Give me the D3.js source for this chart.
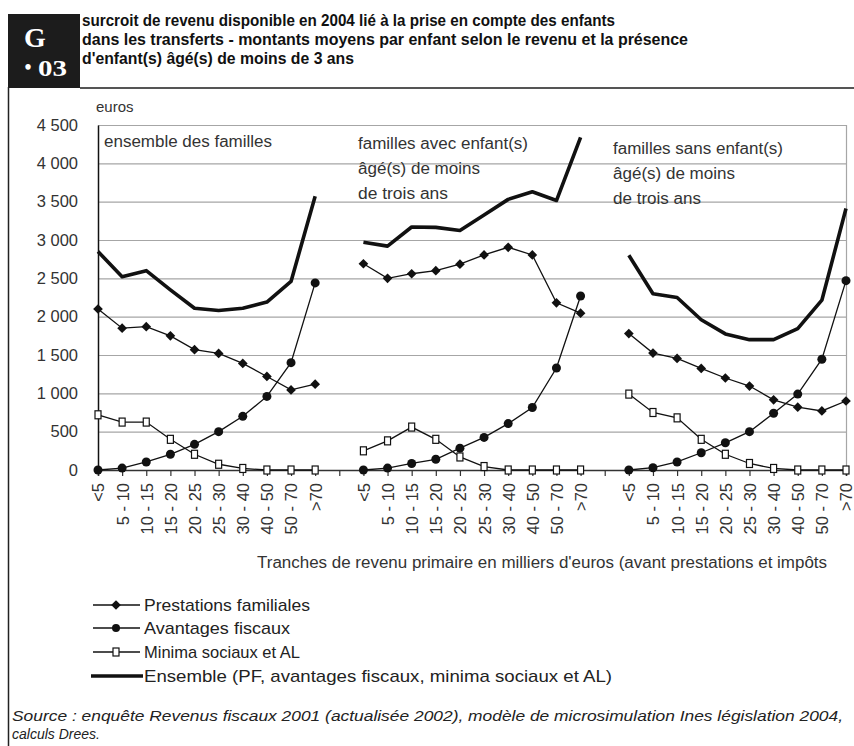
<!DOCTYPE html>
<html>
<head>
<meta charset="utf-8">
<script src="https://cdn.jsdelivr.net/npm/d3@7"></script>
<style>
  html, body { margin: 0; padding: 0; background: #fff; }
  svg { display: block; }
  text { font-family: "Liberation Sans", Arial, sans-serif; fill: #222; }
</style>
</head>
<body>
<svg id="chart" width="854" height="746"></svg>
<script>
// Income brackets (thousands of euros) shared by the three groups
const tranches = ["<5", "5 - 10", "10 - 15", "15 - 20", "20 - 25", "25 - 30", "30 - 40", "40 - 50", "50 - 70", ">70"];
const groupes = [
  ["ensemble des familles"],
  ["familles avec enfant(s)", "âgé(s) de moins", "de trois ans"],
  ["familles sans enfant(s)", "âgé(s) de moins", "de trois ans"]
];
const yTicks = [0, 500, 1000, 1500, 2000, 2500, 3000, 3500, 4000, 4500];

// Average amounts per child, euros — ensemble des familles
const ensembleTous    = [2850, 2520, 2600, 2350, 2110, 2080, 2110, 2190, 2460, 3570];
const prestationsTous = [2100, 1850, 1870, 1750, 1570, 1520, 1390, 1220, 1045, 1120];
const avantagesTous   = [0, 25, 105, 205, 335, 500, 700, 960, 1400, 2440];
const minimaTous      = [720, 625, 625, 400, 205, 75, 20, 0, 0, 0];

// familles avec enfant(s) de moins de trois ans
const ensembleAvec    = [2970, 2920, 3170, 3165, 3125, 3325, 3530, 3630, 3515, 4340];
const prestationsAvec = [2690, 2500, 2560, 2600, 2685, 2805, 2905, 2805, 2180, 2045];
const avantagesAvec   = [0, 25, 85, 140, 285, 425, 605, 815, 1330, 2270];
const minimaAvec      = [250, 380, 560, 400, 170, 45, 0, 0, 0, 0];

// familles sans enfant(s) de moins de trois ans
const ensembleSans    = [2800, 2300, 2250, 1960, 1775, 1700, 1700, 1845, 2215, 3410];
const prestationsSans = [1780, 1525, 1455, 1325, 1200, 1095, 915, 820, 770, 900];
const avantagesSans   = [0, 30, 105, 225, 355, 500, 740, 990, 1445, 2470];
const minimaSans      = [990, 750, 680, 400, 205, 85, 20, 0, 0, 0];

const seriesNames = [
  "Prestations familiales",
  "Avantages fiscaux",
  "Minima sociaux et AL",
  "Ensemble (PF, avantages fiscaux, minima sociaux et AL)"
];

const blocs = [
  { ensemble: ensembleTous, prestations: prestationsTous, avantages: avantagesTous, minima: minimaTous },
  { ensemble: ensembleAvec, prestations: prestationsAvec, avantages: avantagesAvec, minima: minimaAvec },
  { ensemble: ensembleSans, prestations: prestationsSans, avantages: avantagesSans, minima: minimaSans }
];

const svg = d3.select("#chart");
const serif = "'Liberation Serif', 'Times New Roman', serif";

// ---------- header ----------
svg.append("rect").attr("x", 8).attr("y", 14).attr("width", 72).attr("height", 74).attr("fill", "#1c1c1c");
svg.append("text").attr("x", 35).attr("y", 47).attr("text-anchor", "middle")
  .style("font-family", serif).style("font-weight", "bold")
  .style("font-size", "28px").style("fill", "#fff").text("G");
svg.append("text").attr("x", 28).attr("y", 74).attr("text-anchor", "middle")
  .style("font-family", serif).style("font-weight", "bold")
  .style("font-size", "20px").style("fill", "#fff").text("•");
svg.append("text").attr("x", 38).attr("y", 76)
  .attr("textLength", 29).attr("lengthAdjust", "spacingAndGlyphs")
  .style("font-family", serif).style("font-weight", "bold")
  .style("font-size", "24px").style("fill", "#fff").text("03");

const titre = [
  { t: "surcroit de revenu disponible en 2004 lié à la prise en compte des enfants", w: 533 },
  { t: "dans les transferts - montants moyens par enfant selon le revenu et la présence", w: 606 },
  { t: "d'enfant(s) âgé(s) de moins de 3 ans", w: 272 }
];
titre.forEach((l, i) => {
  svg.append("text").attr("x", 82).attr("y", 26 + i * 19)
    .attr("textLength", l.w).attr("lengthAdjust", "spacingAndGlyphs")
    .style("font-weight", "bold").style("font-size", "16.5px").style("fill", "#111").text(l.t);
});
svg.append("line").attr("x1", 80).attr("x2", 854).attr("y1", 88).attr("y2", 88)
  .attr("stroke", "#555").attr("stroke-width", 2);
svg.append("line").attr("x1", 8.5).attr("x2", 8.5).attr("y1", 87).attr("y2", 746)
  .attr("stroke", "#222").attr("stroke-width", 1.5);

// ---------- scales ----------
const nSlots = 3 * tranches.length + 2;
const x = d3.scalePoint().domain(d3.range(nSlots)).range([98, 846]);
const y = d3.scaleLinear().domain([0, 4500]).range([470, 125]);
const slot = (g, i) => g * (tranches.length + 1) + i;

// gridlines
svg.append("g").selectAll("line").data(yTicks.filter(d => d > 0)).join("line")
  .attr("x1", x(0)).attr("x2", x(nSlots - 1))
  .attr("y1", d => y(d) + 0.5).attr("y2", d => y(d) + 0.5)
  .attr("stroke", "#a6a6a6").attr("stroke-width", 1.2);
svg.append("line").attr("x1", x(nSlots - 1) + 0.5).attr("x2", x(nSlots - 1) + 0.5)
  .attr("y1", y(4500)).attr("y2", y(0)).attr("stroke", "#a6a6a6").attr("stroke-width", 1.2);

// y axis
const yAxis = d3.axisLeft(y).tickValues(yTicks).tickSize(0).tickPadding(20)
  .tickFormat(d => d3.format(",")(d).replace(/,/g, " "));
const gy = svg.append("g").attr("transform", `translate(${x(0)},0)`).call(yAxis);
gy.select(".domain").attr("stroke", "#111").attr("stroke-width", 1.5);
gy.selectAll("text").style("font-size", "16.5px").style("fill", "#333")
  .style("font-family", "'Liberation Sans', Arial, sans-serif");
svg.append("text").attr("x", 96).attr("y", 112).style("font-size", "15px").style("fill", "#333").text("euros");

// x axis
const labelOf = s => (s % (tranches.length + 1) === tranches.length) ? "" : tranches[s % (tranches.length + 1)];
const xAxis = d3.axisBottom(x).tickSize(6).tickPadding(0).tickFormat(labelOf);
const gx = svg.append("g").attr("transform", `translate(0,${y(0)})`).call(xAxis);
gx.select(".domain").attr("stroke", "#333").attr("stroke-width", 1.5);
gx.selectAll(".tick line").attr("stroke", "#333").attr("stroke-width", 1.2);
gx.selectAll(".tick text")
  .attr("transform", "rotate(-90)")
  .attr("text-anchor", "end")
  .attr("x", -13).attr("y", 0).attr("dy", "0.36em")
  .style("font-size", "16.5px").style("fill", "#333")
  .style("font-family", "'Liberation Sans', Arial, sans-serif");

svg.append("text").attr("x", 257).attr("y", 568)
  .attr("textLength", 570).attr("lengthAdjust", "spacingAndGlyphs")
  .style("font-size", "16px").style("fill", "#333")
  .text("Tranches de revenu primaire en milliers d'euros (avant prestations et impôts");

// group captions
const capPos = [[104, 147], [358, 149], [613, 154]];
const capLen = [[168], [170, 122, 90], [170, 122, 88]];
groupes.forEach((lines, g) => {
  lines.forEach((t, k) => {
    svg.append("text").attr("x", capPos[g][0]).attr("y", capPos[g][1] + k * 25)
      .attr("textLength", capLen[g][k]).attr("lengthAdjust", "spacingAndGlyphs")
      .style("font-size", "16px").style("fill", "#333").text(t);
  });
});

// ---------- series ----------
const plot = svg.append("g");
const line = d3.line().x(d => x(d.s)).y(d => y(d.v));
const pts = (arr, g) => arr.map((v, i) => ({ s: slot(g, i), v }));

blocs.forEach((b, g) => {
  plot.append("path").datum(pts(b.ensemble, g)).attr("d", line)
    .attr("fill", "none").attr("stroke", "#111").attr("stroke-width", 3.6).attr("stroke-linejoin", "round");
});
blocs.forEach((b, g) => {
  ["minima", "avantages", "prestations"].forEach(k => {
    plot.append("path").datum(pts(b[k], g)).attr("d", line)
      .attr("fill", "none").attr("stroke", "#111").attr("stroke-width", 1.3);
  });
});
const diamond = d3.symbol().type(d3.symbolDiamond2).size(60);
blocs.forEach((b, g) => {
  plot.append("g").selectAll("circle").data(pts(b.avantages, g)).join("circle")
    .attr("cx", d => x(d.s)).attr("cy", d => y(d.v)).attr("r", 4.5).attr("fill", "#111");
  plot.append("g").selectAll("path").data(pts(b.prestations, g)).join("path")
    .attr("transform", d => `translate(${x(d.s)},${y(d.v)})`).attr("d", diamond).attr("fill", "#111");
  plot.append("g").selectAll("rect").data(pts(b.minima, g)).join("rect")
    .attr("x", d => x(d.s) - 3).attr("y", d => y(d.v) - 4).attr("width", 6).attr("height", 8)
    .attr("fill", "#fff").attr("stroke", "#111").attr("stroke-width", 1.2);
});

// ---------- legend ----------
const legY = [605, 628, 652, 676];
const legLen = [166, 146, 156, 468];
const leg = svg.append("g");
seriesNames.forEach((name, i) => {
  const yy = legY[i];
  leg.append("line").attr("x1", i === 3 ? 91 : 93).attr("x2", i === 3 ? 143 : 140)
    .attr("y1", yy).attr("y2", yy).attr("stroke", "#111").attr("stroke-width", i === 3 ? 3.6 : 1.3);
  if (i === 0) leg.append("path").attr("transform", `translate(116,${yy})`).attr("d", diamond).attr("fill", "#111");
  if (i === 1) leg.append("circle").attr("cx", 116).attr("cy", yy).attr("r", 4).attr("fill", "#111");
  if (i === 2) leg.append("rect").attr("x", 113).attr("y", yy - 4).attr("width", 6).attr("height", 8)
    .attr("fill", "#fff").attr("stroke", "#111").attr("stroke-width", 1.2);
  leg.append("text").attr("x", 144).attr("y", yy + 6)
    .attr("textLength", legLen[i]).attr("lengthAdjust", "spacingAndGlyphs")
    .style("font-size", "17px").style("fill", "#222").text(name);
});

// ---------- source ----------
svg.append("text").attr("x", 12).attr("y", 721)
  .attr("textLength", 831).attr("lengthAdjust", "spacingAndGlyphs")
  .style("font-size", "14px").style("font-style", "italic").style("fill", "#222")
  .text("Source : enquête Revenus fiscaux 2001 (actualisée 2002), modèle de microsimulation Ines législation 2004,");
svg.append("text").attr("x", 12).attr("y", 739)
  .style("font-size", "14px").style("font-style", "italic").style("fill", "#222")
  .text("calculs Drees.");
</script>
</body>
</html>
